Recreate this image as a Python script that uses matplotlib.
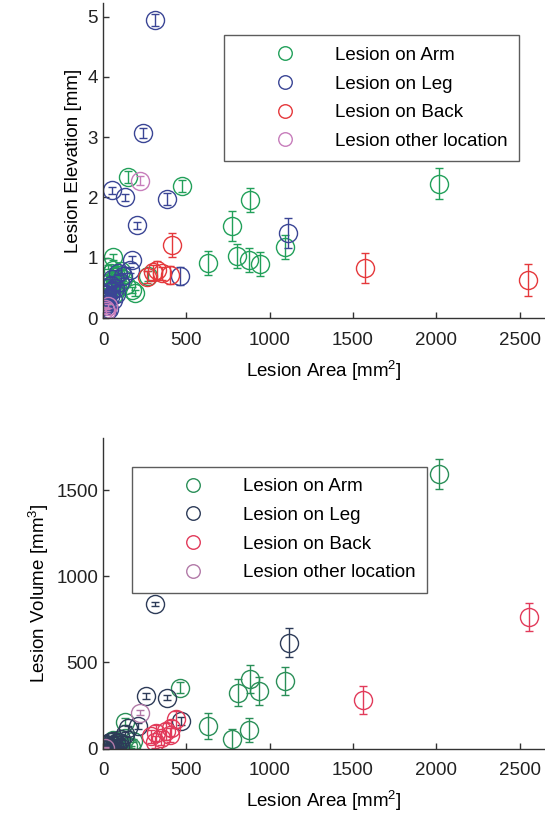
import numpy as np
import matplotlib
matplotlib.use("Agg")
import matplotlib.pyplot as plt

plt.rcParams['font.family'] = ['Liberation Sans', 'DejaVu Sans']
plt.rcParams['mathtext.fontset'] = 'custom'
plt.rcParams['mathtext.rm'] = 'Liberation Sans'
plt.rcParams['mathtext.it'] = 'Liberation Sans:italic'

# ── Top panel: area [mm^2], elevation [mm], error ─────────────
arm_area_a = [152, 472, 882, 772, 1092, 62, 802, 878, 942, 632, 272, 192, 172, 2014,
              30, 45, 60, 75, 90, 110, 40, 55, 70, 85, 100, 120, 35, 65, 140, 25]
arm_elev   = [2.34, 2.19, 1.96, 1.53, 1.18, 1.02, 1.03, 0.97, 0.90, 0.91, 0.70, 0.42, 0.47, 2.23,
              0.85, 0.75, 0.80, 0.70, 0.72, 0.78, 0.60, 0.55, 0.62, 0.50, 0.58, 0.65, 0.45, 0.40, 0.55, 0.35]
arm_elev_e = [0.10, 0.10, 0.20, 0.25, 0.20, 0.05, 0.20, 0.20, 0.20, 0.20, 0.08, 0.05, 0.05, 0.26,
              0.03, 0.03, 0.03, 0.03, 0.03, 0.04, 0.03, 0.03, 0.03, 0.03, 0.04, 0.04, 0.03, 0.03, 0.04, 0.03]

leg_area_a = [312, 242, 52, 132, 386, 202, 1112, 172, 162, 462,
              10, 20, 30, 15, 40, 25, 50, 35, 60, 45, 70, 80, 55, 100, 5, 22, 90, 120]
leg_elev   = [4.95, 3.07, 2.12, 2.00, 1.97, 1.54, 1.41, 0.97, 0.80, 0.70,
              0.20, 0.30, 0.25, 0.40, 0.35, 0.50, 0.45, 0.15, 0.30, 0.55, 0.50, 0.40, 0.65, 0.60, 0.28, 0.12, 0.75, 0.70]
leg_elev_e = [0.10, 0.08, 0.06, 0.06, 0.10, 0.06, 0.25, 0.06, 0.05, 0.15,
              0.02, 0.02, 0.02, 0.02, 0.02, 0.03, 0.03, 0.02, 0.03, 0.03, 0.03, 0.03, 0.03, 0.04, 0.02, 0.02, 0.04, 0.04]

back_area_a = [412, 322, 402, 302, 352, 1570, 2553, 262]
back_elev   = [1.21, 0.80, 0.71, 0.76, 0.74, 0.83, 0.63, 0.68]
back_elev_e = [0.20, 0.15, 0.15, 0.12, 0.10, 0.25, 0.26, 0.10]

oth_area_a = [222, 10, 20, 30]
oth_elev   = [2.28, 0.15, 0.12, 0.20]
oth_elev_e = [0.08, 0.03, 0.03, 0.03]

# ── Bottom panel: area [mm^2], volume [mm^3], error ───────────
arm_area_b = [2014, 882, 1092, 812, 938, 462, 632, 878, 772, 132,
              30, 50, 70, 90, 110, 150, 170, 40, 60, 130, 180]
arm_vol    = [1595, 402, 392, 325, 334, 354, 131, 108, 53, 156,
              20, 35, 25, 40, 30, 15, 10, 10, 50, 60, 45]
arm_vol_e  = [85, 82, 80, 80, 80, 30, 75, 70, 60, 20,
              5, 6, 5, 7, 6, 5, 5, 4, 8, 10, 8]

leg_area_b = [312, 1117, 258, 386, 466, 152, 212,
              5, 15, 25, 35, 45, 55, 65, 75, 85, 95, 110, 20, 40, 60, 130, 100, 10, 30]
leg_vol    = [838, 615, 305, 296, 160, 117, 131,
              5, 10, 8, 15, 5, 20, 12, 30, 18, 40, 55, 25, 35, 45, 85, 10, 18, 2]
leg_vol_e  = [12, 84, 15, 15, 25, 15, 15,
              2, 3, 3, 4, 3, 5, 4, 6, 5, 7, 8, 4, 5, 6, 10, 4, 3, 2]

back_area_b = [1562, 2558, 290, 320, 350, 380, 410, 440, 310, 400]
back_vol    = [282, 766, 70, 90, 60, 100, 120, 170, 40, 80]
back_vol_e  = [82, 82, 40, 45, 40, 50, 45, 50, 35, 40]

oth_area_b = [222, 10]
oth_vol    = [208, 5]
oth_vol_e  = [15, 3]

labels = ['Lesion on Arm', 'Lesion on Leg', 'Lesion on Back', 'Lesion other location']
colors_top = ['#22a05a', '#3a4595', '#e5383b', '#c77dbb']
colors_bot = ['#2a8f58', '#2d3b58', '#e23a5a', '#b27aa8']

fig = plt.figure(figsize=(5.45, 8.22), dpi=100)
ax1 = fig.add_axes([0.189, 0.613, 0.811, 0.383])
ax2 = fig.add_axes([0.189, 0.0894, 0.811, 0.378])


def draw(ax, groups, colors):
    for (x, y, e), c, lab in zip(groups, colors, labels):
        ax.errorbar(x, y, yerr=e, fmt='none', ecolor=c, elinewidth=1, capsize=3, capthick=1)
        ax.plot(x, y, 'o', ms=13, mfc='none', mec=c, mew=1, label=lab)


draw(ax1, [(arm_area_a, arm_elev, arm_elev_e), (leg_area_a, leg_elev, leg_elev_e),
           (back_area_a, back_elev, back_elev_e), (oth_area_a, oth_elev, oth_elev_e)], colors_top)
draw(ax2, [(arm_area_b, arm_vol, arm_vol_e), (leg_area_b, leg_vol, leg_vol_e),
           (back_area_b, back_vol, back_vol_e), (oth_area_b, oth_vol, oth_vol_e)], colors_bot)

ax1.set_xlim(0, 2653)
ax1.set_ylim(0, 5.22)
ax1.set_yticks([0, 1, 2, 3, 4, 5])
ax1.set_ylabel('Lesion Elevation [mm]', fontsize=13.5)

ax2.set_xlim(0, 2653)
ax2.set_ylim(0, 1805)
ax2.set_yticks([0, 500, 1000, 1500])
ax2.set_ylabel('Lesion Volume [mm$^3$]', fontsize=13.5)

for ax in (ax1, ax2):
    ax.set_xticks([0, 500, 1000, 1500, 2000, 2500])
    ax.set_xlabel('Lesion Area [mm$^2$]', fontsize=13.5, labelpad=7)
    ax.spines['top'].set_visible(False)
    ax.spines['right'].set_visible(False)
    for s in ('left', 'bottom'):
        ax.spines[s].set_color('#333333')
        ax.spines[s].set_linewidth(1)
    ax.tick_params(direction='in', length=4, width=1, colors='#333333',
                   labelsize=13.5, labelcolor='#222222')
    ax.tick_params(axis='x', pad=10)

leg_kw = dict(fontsize=13.5, frameon=True, fancybox=False, edgecolor='#333333',
              borderpad=0.6, labelspacing=0.62, handlelength=5.3, handletextpad=0.0,
              markerscale=0.75, borderaxespad=0, loc='upper left')
l1 = ax1.legend(bbox_to_anchor=(0.274, 0.898), **leg_kw)
l2 = ax2.legend(bbox_to_anchor=(0.066, 0.907), **leg_kw)
for lg in (l1, l2):
    lg.get_frame().set_linewidth(1)

fig.savefig('out.png', dpi=100)
